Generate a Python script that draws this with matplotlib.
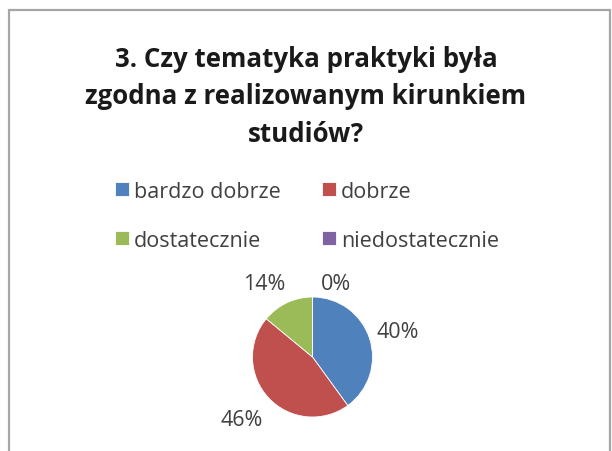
import matplotlib
matplotlib.use('Agg')
import matplotlib.pyplot as plt
from matplotlib.patches import Rectangle

plt.rcParams['font.family'] = ['Open Sans', 'DejaVu Sans']

title = '3. Czy tematyka praktyki była\nzgodna z realizowanym kirunkiem\nstudiów?'
categories = ['bardzo dobrze', 'dobrze', 'dostatecznie', 'niedostatecznie']
shares = [40, 46, 14, 0]
colors = ['#4F81BD', '#C0504D', '#9BBB59', '#8064A2']
# where each percentage label sits, in pie radius units
label_pos = [(1.42, 0.43), (-1.18, -1.05), (-0.8, 1.22), (0.4, 1.22)]

W, H = 612, 452
fig = plt.figure(figsize=(W / 100, H / 100), dpi=100)

# chart area border
fig.patches.append(Rectangle((9 / W, -0.05), (601 / W), 1 - 11 / H + 0.05,
                             transform=fig.transFigure, fill=False,
                             edgecolor='#a6a6a6', linewidth=1.6))

fig.text(0.5, 1 - 97 / H, title, ha='center', va='center', fontsize=18.6,
         fontweight='bold', color='#1a1a1a', linespacing=1.5)

# pie
cx, cy, r = 312.5, 358, 60
ax = fig.add_axes([(cx - r) / W, (H - cy - r) / H, 2 * r / W, 2 * r / H])
wedges, _ = ax.pie(shares, colors=colors, startangle=90, counterclock=False,
                   wedgeprops=dict(edgecolor='white', linewidth=0.6))
ax.set_xlim(-1, 1)
ax.set_ylim(-1, 1)
ax.set_aspect('equal')
ax.axis('off')
for s, (x, y) in zip(shares, label_pos):
    ax.text(x, y, f'{s}%', ha='center', va='center', fontsize=15.5,
            color='#404040', clip_on=False)

# legend filled row by row
order = [0, 2, 1, 3]
leg = fig.legend([wedges[i] for i in order], [categories[i] for i in order],
                 ncol=2, loc='upper left',
                 bbox_to_anchor=(106 / W, 1 - 173 / H), frameon=False,
                 fontsize=15.5, handlelength=0.65, handleheight=0.65,
                 handletextpad=0.25, columnspacing=1.9, labelspacing=1.3,
                 borderaxespad=0)
for t in leg.get_texts():
    t.set_color('#404040')

fig.savefig('out.png', dpi=100)
